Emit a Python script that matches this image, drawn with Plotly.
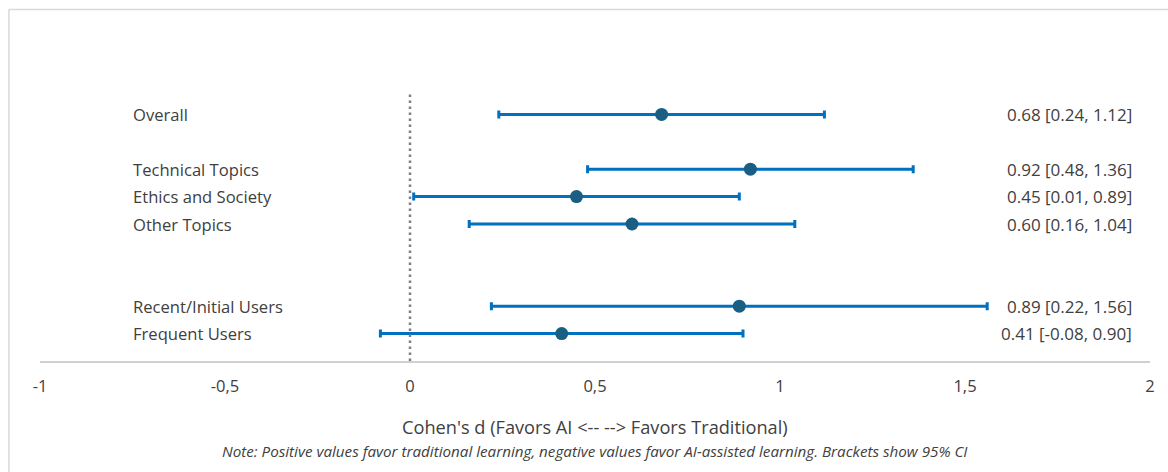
import plotly.graph_objects as go

# ---- data ----
categories = ["Overall", "Technical Topics", "Ethics and Society", "Other Topics",
              "Recent/Initial Users", "Frequent Users"]
effect = [0.68, 0.92, 0.45, 0.60, 0.89, 0.41]
ci_low = [0.24, 0.48, 0.01, 0.16, 0.22, -0.08]
ci_high = [1.12, 1.36, 0.89, 1.04, 1.56, 0.90]
# groups of rows (separated by blank rows)
groups = [["Overall"], ["Technical Topics", "Ethics and Society", "Other Topics"],
          ["Recent/Initial Users", "Frequent Users"]]
gap_rows = [1, 2]  # blank rows after group 0 and group 1
tick_vals = [-1, -0.5, 0, 0.5, 1, 1.5, 2]
tick_text = ["-1", "-0,5", "0", "0,5", "1", "1,5", "2"]

# ---- row positions (bottom row = 1) ----
total_rows = sum(len(g) for g in groups) + sum(gap_rows)
ypos = {}
r = total_rows
for gi, g in enumerate(groups):
    for c in g:
        ypos[c] = r
        r -= 1
    if gi < len(gap_rows):
        r -= gap_rows[gi]
ys = [ypos[c] for c in categories]

TXT = "#404040"
FONT = "Open Sans, Roboto, sans-serif"

fig = go.Figure()
fig.add_trace(go.Scatter(
    x=effect, y=ys, mode="markers",
    marker=dict(color="#1B5E84", size=13),
    error_x=dict(type="data", symmetric=False,
                 array=[h - e for h, e in zip(ci_high, effect)],
                 arrayminus=[e - l for e, l in zip(effect, ci_low)],
                 color="#0070C0", thickness=3, width=4),
    showlegend=False, hoverinfo="skip",
))

annotations = []
for c, e, lo, hi, y in zip(categories, effect, ci_low, ci_high, ys):
    annotations.append(dict(x=0.082, xref="paper", y=y, yref="y", text=c,
                            xanchor="left", yanchor="middle", showarrow=False,
                            font=dict(size=16.6, color=TXT, family=FONT)))
    annotations.append(dict(x=1.957, xref="x", y=y, yref="y",
                            text=f"{e:.2f} [{lo:.2f}, {hi:.2f}]",
                            xanchor="right", yanchor="middle", showarrow=False,
                            font=dict(size=17, color=TXT, family=FONT)))
annotations.append(dict(x=0.5, xref="paper", y=-0.24, yref="paper",
                        text="Cohen's d (Favors AI <-- --> Favors Traditional)",
                        xanchor="center", yanchor="middle", showarrow=False,
                        font=dict(size=18.2, color=TXT, family=FONT)))
annotations.append(dict(x=0.5, xref="paper", y=-0.328, yref="paper",
                        text="<i>Note: Positive values favor traditional learning, negative values favor AI-assisted learning. Brackets show 95% CI</i>",
                        xanchor="center", yanchor="middle", showarrow=False,
                        font=dict(size=15.2, color=TXT, family=FONT)))

shapes = [
    dict(type="line", xref="x", yref="y", x0=0, x1=0, y0=0, y1=9.8,
         line=dict(color="#7F7F7F", width=2.5, dash="2.5px,3.5px")),
    # chart border (top and left)
    dict(type="line", xref="paper", yref="paper", x0=-0.028, x1=1.02, y0=1.283, y1=1.283,
         line=dict(color="#D9D9D9", width=1.5)),
    dict(type="line", xref="paper", yref="paper", x0=-0.028, x1=-0.028, y0=1.283, y1=-0.45,
         line=dict(color="#D9D9D9", width=1.5)),
]

fig.update_layout(
    width=1168, height=472,
    margin=dict(l=40, r=18, t=87, b=111),
    paper_bgcolor="white", plot_bgcolor="white",
    xaxis=dict(range=[-1, 2], tickvals=tick_vals, ticktext=tick_text,
               showgrid=False, zeroline=False, showline=True,
               linecolor="#D0D0D0", linewidth=1.5, ticks="",
               tickfont=dict(size=16.5, color=TXT, family=FONT), ticklabelstandoff=9),
    yaxis=dict(range=[0, total_rows + 1], visible=False, showgrid=False, zeroline=False),
    annotations=annotations, shapes=shapes,
)

fig.write_html("out.html", config={"displayModeBar": False},
               post_script="document.body.style.margin='0';document.body.style.overflow='hidden';")
